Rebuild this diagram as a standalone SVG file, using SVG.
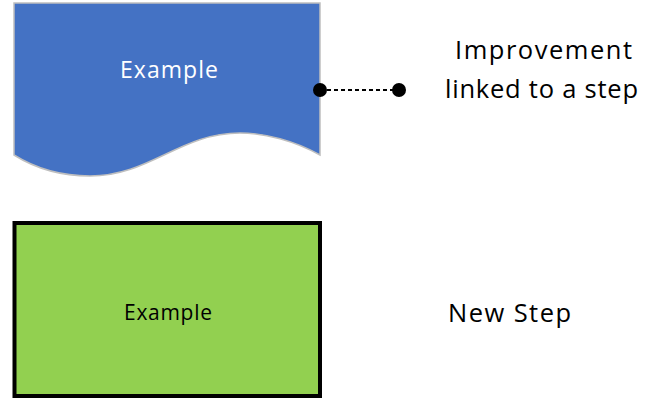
<svg xmlns="http://www.w3.org/2000/svg" width="658" height="407" viewBox="0 0 658 407">
<style>
text{font-family:"Open Sans","Liberation Sans",sans-serif;text-anchor:middle}
.lbl{font-size:25.5px;fill:#000}
</style>
<rect width="658" height="407" fill="#fff"/>
<g id="improvement">
<path d="M14,3 H320 V155 C295,141 265,133 240,133 C180,133 150,176 90,176 C55,176 30,165 14,155 Z" fill="#4472c4" stroke="#bfbfbf" stroke-width="1.5"/>
<text x="169" y="78" font-size="23" fill="#fff" textLength="98" lengthAdjust="spacing">Example</text>
</g>
<g id="newstep">
<rect x="14.5" y="223" width="305.5" height="173" fill="#92d050" stroke="#000" stroke-width="4"/>
<text x="168" y="320" font-size="21" fill="#000" textLength="88" lengthAdjust="spacing">Example</text>
</g>
<g id="connectors">
<line x1="320" y1="90" x2="399" y2="90" stroke="#000" stroke-width="2" stroke-dasharray="4,3"/>
<circle cx="320" cy="90" r="7" fill="#000"/>
<circle cx="399" cy="90" r="7" fill="#000"/>
</g>
<g id="legend">
<text class="lbl" x="543.5" y="59" textLength="177" lengthAdjust="spacing">Improvement</text>
<text class="lbl" x="541.5" y="98" textLength="193" lengthAdjust="spacing">linked to a step</text>
<text class="lbl" x="509.5" y="322" textLength="123" lengthAdjust="spacing">New Step</text>
</g>
</svg>
